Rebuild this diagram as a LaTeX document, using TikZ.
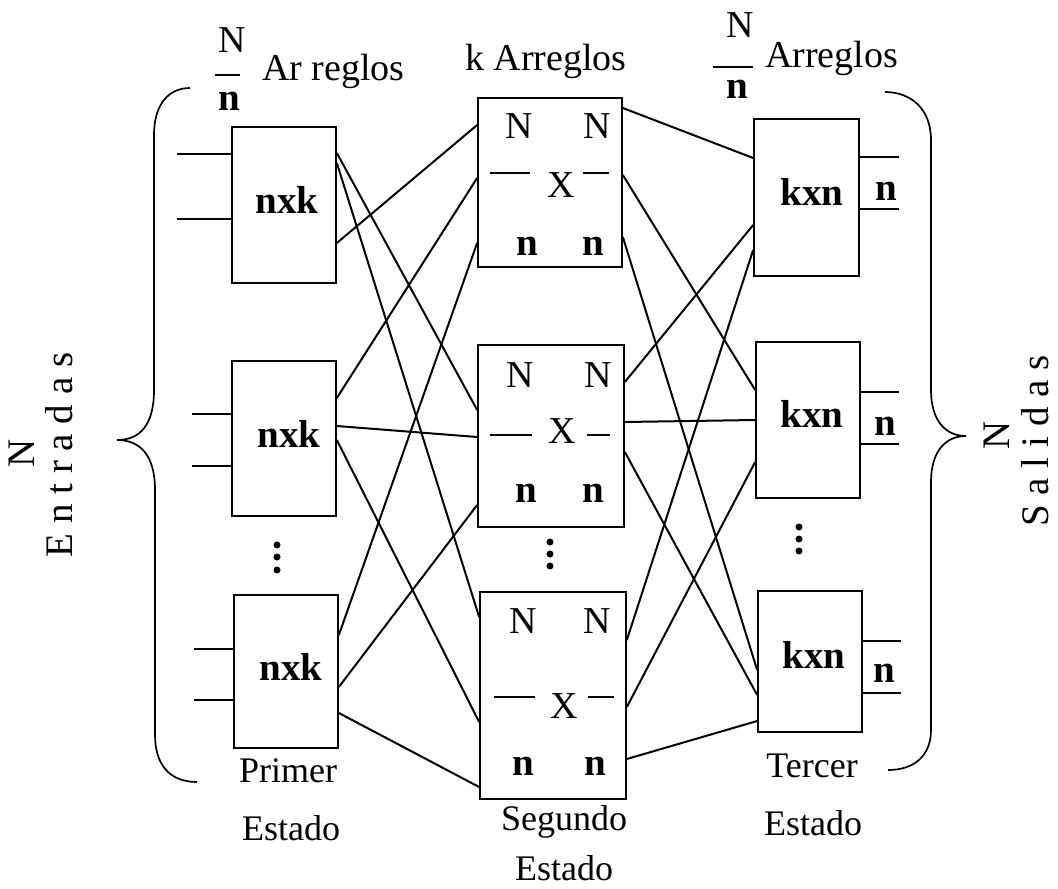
\documentclass[tikz,border=0pt]{standalone}
\usepackage{fontspec}
\setmainfont{Liberation Serif}
\tikzset{
  sw/.style={draw,line width=1.7pt,inner sep=0pt},
  wire/.style={line width=2pt},
  big/.style={font=\fontsize{38}{40}\selectfont,inner sep=0pt,anchor=base},
  bold/.style={font=\fontsize{39}{40}\selectfont\bfseries,inner sep=0pt,anchor=base},
  capt/.style={font=\fontsize{36}{38}\selectfont,inner sep=0pt,anchor=base},
  rot/.style={font=\fontsize{39}{40}\selectfont,inner sep=0pt,rotate=90},
}
\begin{document}
\begin{tikzpicture}[x=1pt,y=-1pt]
  \useasboundingbox (0,0) rectangle (1058,889);
  % primer estado
  \node[sw,minimum width=104pt,minimum height=156pt] (L1) at (284,205) {};
  \node[sw,minimum width=104pt,minimum height=155pt] (L2) at (284,438.5) {};
  \node[sw,minimum width=104pt,minimum height=153pt] (L3) at (286,671.5) {};
  \node[bold] (L1t) at (287,213) {nxk};
  \node[bold] (L2t) at (289,447) {nxk};
  \node[bold] (L3t) at (291,680) {nxk};
  \draw[wire] (L1.west |- 0,154) -- ++(-54,0);
  \draw[wire] (L1.west |- 0,219) -- ++(-54,0);
  \draw[wire] (L2.west |- 0,414) -- ++(-39,0);
  \draw[wire] (L2.west |- 0,466) -- ++(-39,0);
  \draw[wire] (L3.west |- 0,649) -- ++(-39,0);
  \draw[wire] (L3.west |- 0,700) -- ++(-39,0);
  \fill (277,545) circle (3.5) (277,557) circle (3.5) (277,570) circle (3.5);
  % segundo estado
  \node[sw,minimum width=144pt,minimum height=169pt] (M1) at (550,182.5) {};
  \node[sw,minimum width=146pt,minimum height=182pt] (M2) at (551,436) {};
  \node[sw,minimum width=146pt,minimum height=207pt] (M3) at (553,695.5) {};
  \node[big] (M1a) at (519,138) {N};
  \node[big] (M1b) at (597,138) {N};
  \node[big] (M1x) at (561,197) {X};
  \node[bold] (M1c) at (527,255) {n};
  \node[bold] (M1d) at (593,255) {n};
  \draw[wire] (490,173) -- (530,173) (583,173) -- (609,173);
  \node[big] (M2a) at (520,387) {N};
  \node[big] (M2b) at (598,387) {N};
  \node[big] (M2x) at (562,443) {X};
  \node[bold] (M2c) at (526,502) {n};
  \node[bold] (M2d) at (593,502) {n};
  \draw[wire] (490,435) -- (532,435) (587,435) -- (610,435);
  \node[big] (M3a) at (523,633) {N};
  \node[big] (M3b) at (597,633) {N};
  \node[big] (M3x) at (564,718) {X};
  \node[bold] (M3c) at (523,775) {n};
  \node[bold] (M3d) at (595,775) {n};
  \draw[wire] (494,697) -- (535,697) (588,697) -- (614,697);
  \fill (550,542) circle (3.5) (550,554) circle (3.5) (550,566) circle (3.5);
  % tercer estado
  \node[sw,minimum width=105pt,minimum height=157pt] (R1) at (806.5,197.5) {};
  \node[sw,minimum width=104pt,minimum height=156pt] (R2) at (808,420) {};
  \node[sw,minimum width=104pt,minimum height=141pt] (R3) at (810,661.5) {};
  \node[bold] (R1t) at (812,205) {kxn};
  \node[bold] (R2t) at (812,427) {kxn};
  \node[bold] (R3t) at (814,668) {kxn};
  \draw[wire] (R1.east |- 0,157) -- ++(39,0);
  \draw[wire] (R1.east |- 0,209) -- ++(39,0);
  \draw[wire] (R2.east |- 0,392) -- ++(38,0);
  \draw[wire] (R2.east |- 0,444) -- ++(38,0);
  \draw[wire] (R3.east |- 0,641) -- ++(38,0);
  \draw[wire] (R3.east |- 0,693) -- ++(38,0);
  \node[bold] (R1n) at (886,200) {n};
  \node[bold] (R2n) at (885,435) {n};
  \node[bold] (R3n) at (884,682) {n};
  \fill (799,527) circle (3.5) (799,539) circle (3.5) (799,551) circle (3.5);
  % conexiones primer - segundo
  \draw[wire] (L1.east |- 0,243) -- (M1.west |- 0,125);
  \draw[wire] (L1.east |- 0,153) -- (M2.west |- 0,410);
  \draw[wire] (L1.east |- 0,163) -- (M3.west |- 0,617);
  \draw[wire] (L2.east |- 0,398) -- (M1.west |- 0,178);
  \draw[wire] (L2.east |- 0,426) -- (M2.west |- 0,437);
  \draw[wire] (L2.east |- 0,440) -- (M3.west |- 0,722);
  \draw[wire] (L3.east |- 0,635) -- (M1.west |- 0,243);
  \draw[wire] (L3.east |- 0,687) -- (M2.west |- 0,505);
  \draw[wire] (L3.east |- 0,713) -- (M3.west |- 0,787);
  % conexiones segundo - tercer
  \draw[wire] (M1.east |- 0,108) -- (R1.west |- 0,158);
  \draw[wire] (M1.east |- 0,175) -- (R2.west |- 0,390);
  \draw[wire] (M1.east |- 0,237) -- (R3.west |- 0,670);
  \draw[wire] (M2.east |- 0,382) -- (R1.west |- 0,225);
  \draw[wire] (M2.east |- 0,422) -- (R2.west |- 0,420);
  \draw[wire] (M2.east |- 0,452) -- (R3.west |- 0,695);
  \draw[wire] (M3.east |- 0,640) -- (R1.west |- 0,250);
  \draw[wire] (M3.east |- 0,707) -- (R2.west |- 0,462);
  \draw[wire] (M3.east |- 0,759) -- (R3.west |- 0,721);
  % arreglos
  \node[big] (fN1) at (232,52) {N};
  \draw[wire] (215,75) -- (240,75);
  \node[bold] (fn1) at (229,110) {n};
  \node[big,anchor=base west] (arr1) at (262,80) {Ar reglos};
  \node[big,anchor=base west] (arr2) at (465,70) {k Arreglos};
  \node[big] (fN3) at (740,37) {N};
  \draw[wire] (713,67) -- (753,67);
  \node[bold] (fn3) at (737,98) {n};
  \node[big,anchor=base west] (arr3) at (765,67) {Arreglos};
  % estados
  \node[capt] (pr1) at (288,782) {Primer};
  \node[capt] (pr2) at (291,840) {Estado};
  \node[capt] (se1) at (564,830) {Segundo};
  \node[capt] (se2) at (564,880) {Estado};
  \node[capt] (te1) at (812,777) {Tercer};
  \node[capt] (te2) at (813,835) {Estado};
  % llaves
  \draw[line width=1.7pt] (190,88) .. controls (168,88) and (154,105) .. (154,135) -- (154,390)
    .. controls (154,425) and (140,440) .. (117,440) .. controls (140,440) and (155,455) .. (155,490)
    -- (155,735) .. controls (155,765) and (170,782) .. (197,782);
  \draw[line width=1.7pt] (885,92) .. controls (910,92) and (931,108) .. (931,140) -- (931,390)
    .. controls (931,420) and (945,436) .. (966,436) .. controls (945,436) and (931,452) .. (931,482)
    -- (931,730) .. controls (931,755) and (915,770) .. (888,770);
  \node[rot] (eN) at (22,453) {N};
  \node[rot] (ent) at (59,455) {E n t r a d a s};
  \node[rot] (sN) at (997,435) {N};
  \node[rot] (sal) at (1035,441) {S a l i d a s};
\end{tikzpicture}
\end{document}
